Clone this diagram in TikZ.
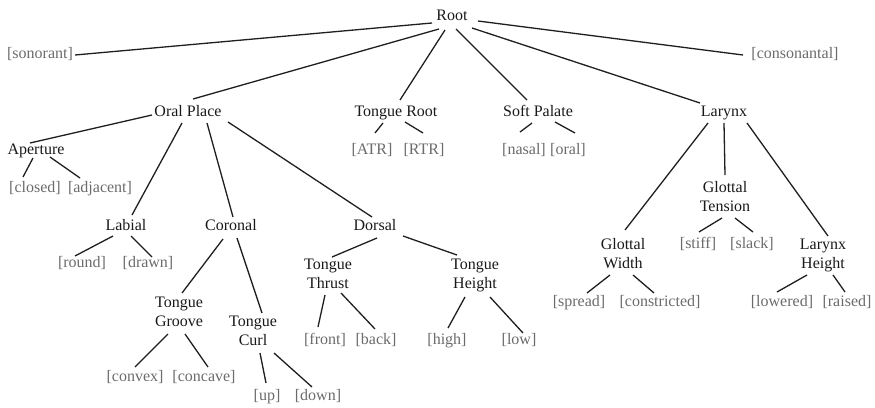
\documentclass[tikz,border=0pt]{standalone}
\usepackage{fontspec}
\setmainfont{Liberation Serif}
\begin{document}
\begin{tikzpicture}[x=1pt,y=-1pt,
  every node/.style={inner sep=0pt, font=\fontsize{16}{19}\selectfont},
  lbl/.style={text=black!90, text height=11pt, text depth=3.5pt},
  lbltwo/.style={text=black!90, align=center},
  feat/.style={text=black!58, text height=11pt, text depth=3.5pt},
  branch/.style={draw=black!88, line width=1.3pt}]
\useasboundingbox (0,0) rectangle (875,407);
\newcommand\link[4]{\draw[branch] ([shift={#2}]#1.center) -- ([shift={#4}]#3.center);}

% tree nodes
\node[lbl]  (root)    at (452,17)    {Root};
\node[feat] (son)     at (40,55)     {[sonorant]};
\node[feat] (cons)    at (795,55)    {[consonantal]};
\node[lbl]  (op)      at (188,113)   {Oral Place};
\node[lbl]  (tr)      at (396,113)   {Tongue Root};
\node[lbl]  (sp)      at (538,113)   {Soft Palate};
\node[lbl]  (lx)      at (724,113)   {Larynx};
\node[lbl]  (ap)      at (36,151)    {Aperture};
\node[feat] (closed)  at (35,189)    {[closed]};
\node[feat] (adj)     at (100,189)   {[adjacent]};
\node[feat] (atr)     at (372,151)   {[ATR]};
\node[feat] (rtr)     at (424,151)   {[RTR]};
\node[feat] (nasal)   at (524,151)   {[nasal]};
\node[feat] (oral)    at (568,151)   {[oral]};
\node[lbl]  (lab)     at (126,227)   {Labial};
\node[lbl]  (cor)     at (231,227)   {Coronal};
\node[lbl]  (dor)     at (375,227)   {Dorsal};
\node[feat] (round)   at (82,264)    {[round]};
\node[feat] (drawn)   at (148,264)   {[drawn]};
\node[lbltwo] (gt)    at (725,197)   {Glottal\\Tension};
\node[feat] (stiff)   at (698,245)   {[stiff]};
\node[feat] (slack)   at (752,245)   {[slack]};
\node[lbltwo] (gw)    at (623,254)   {Glottal\\Width};
\node[lbltwo] (lh)    at (823,255)   {Larynx\\Height};
\node[feat] (spread)  at (579,303)   {[spread]};
\node[feat] (constr)  at (660,303)   {[constricted]};
\node[feat] (lowered) at (782,303)   {[lowered]};
\node[feat] (raised)  at (847,303)   {[raised]};
\node[lbltwo] (tt)    at (328,274)   {Tongue\\Thrust};
\node[lbltwo] (th)    at (475,275)   {Tongue\\Height};
\node[feat] (front)   at (325,341)   {[front]};
\node[feat] (back)    at (376,341)   {[back]};
\node[feat] (high)    at (447,341)   {[high]};
\node[feat] (low)     at (519,341)   {[low]};
\node[lbltwo] (tg)    at (179,312)   {Tongue\\Groove};
\node[lbltwo] (tc)    at (253,331)   {Tongue\\Curl};
\node[feat] (convex)  at (135,378)   {[convex]};
\node[feat] (concave) at (204,378)   {[concave]};
\node[feat] (up)      at (267,397)   {[up]};
\node[feat] (down)    at (318,397)   {[down]};

% branches: offsets from each node's centre
\link{root}{(-20,6)}{son}{(35,0)}
\link{root}{(26,4)}{cons}{(-52,0)}
\link{root}{(-13,12)}{op}{(5,-14)}
\link{root}{(-7,13)}{tr}{(4,-13)}
\link{root}{(4,12)}{sp}{(-11,-13)}
\link{root}{(20,11)}{lx}{(-24,-10)}

\link{op}{(-36,2)}{ap}{(-6,-8)}
\link{op}{(-6,10)}{lab}{(6,-12)}
\link{op}{(19,10)}{cor}{(2,-10)}
\link{op}{(40,9)}{dor}{(-3,-10)}

\link{tr}{(-13,10)}{atr}{(3,-18)}
\link{tr}{(9,9)}{rtr}{(-1,-18)}
\link{sp}{(-6,10)}{nasal}{(-4,-19)}
\link{sp}{(17,9)}{oral}{(7,-18)}

\link{lx}{(-16,10)}{gw}{(2,-24)}
\link{lx}{(0,10)}{gt}{(0,-22)}
\link{lx}{(23,10)}{lh}{(5,-19)}

\link{ap}{(-3,7)}{closed}{(-12,-12)}
\link{ap}{(14,6)}{adj}{(-20,-11)}
\link{lab}{(-13,9)}{round}{(-7,-8)}
\link{lab}{(5,9)}{drawn}{(4,-7)}
\link{cor}{(-8,12)}{tg}{(3,-19)}
\link{cor}{(6,11)}{tc}{(9,-18)}
\link{dor}{(2,11)}{tt}{(4,-17)}
\link{dor}{(28,9)}{th}{(-18,-20)}

\link{gt}{(-3,21)}{stiff}{(1,-13)}
\link{gt}{(10,21)}{slack}{(1,-13)}
\link{gw}{(-13,21)}{spread}{(8,-10)}
\link{gw}{(10,21)}{constr}{(-6,-10)}
\link{lh}{(-16,20)}{lowered}{(-5,-11)}
\link{lh}{(10,20)}{raised}{(-2,-11)}

\link{tg}{(-11,22)}{convex}{(0,-11)}
\link{tg}{(6,22)}{concave}{(4,-11)}
\link{tc}{(7,22)}{up}{(-1,-14)}
\link{tc}{(21,22)}{down}{(-6,-10)}
\link{tt}{(-3,21)}{front}{(-7,-14)}
\link{tt}{(13,19)}{back}{(-1,-12)}
\link{th}{(-10,22)}{high}{(1,-13)}
\link{th}{(15,22)}{low}{(4,-8)}
\end{tikzpicture}
\end{document}
